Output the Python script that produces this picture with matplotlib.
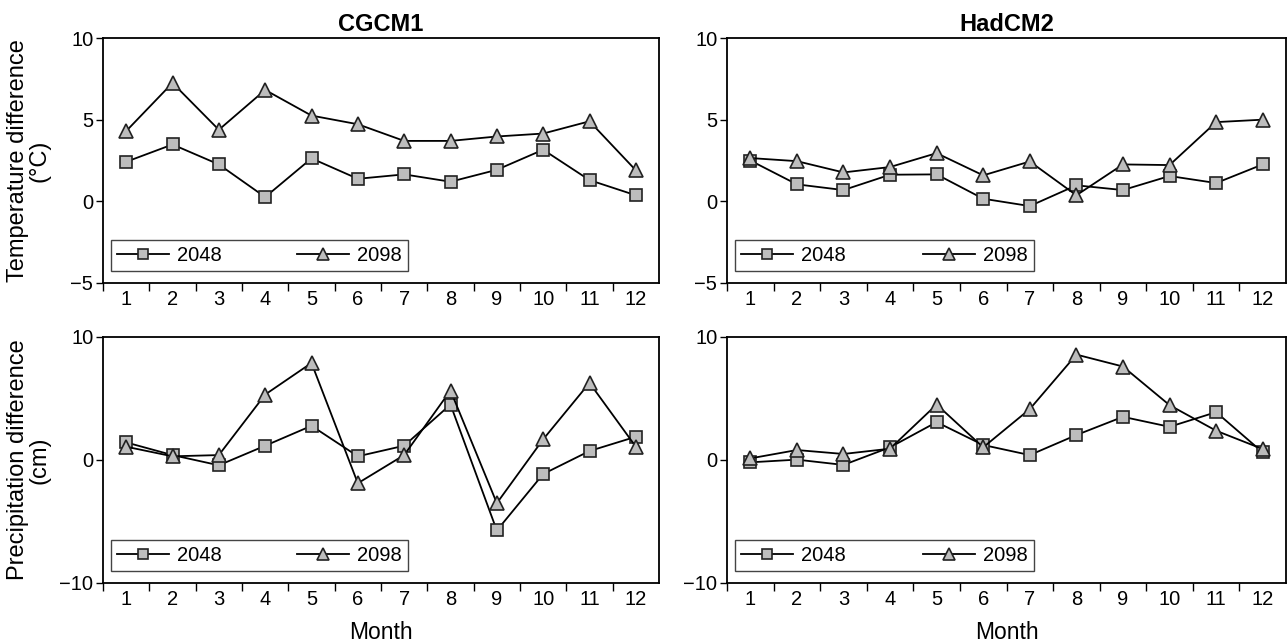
import matplotlib.pyplot as plt
import numpy as np

plt.rcParams['font.family'] = ['Liberation Sans', 'DejaVu Sans']

months = list(range(1, 13))
month_labels = [str(m) for m in months]

# temperature difference (deg C)
cgcm1_temp_2048 = [2.42, 3.48, 2.26, 0.26, 2.63, 1.38, 1.65, 1.2, 1.93, 3.16, 1.3, 0.37]
cgcm1_temp_2098 = [4.3, 7.25, 4.38, 6.82, 5.25, 4.72, 3.7, 3.7, 3.97, 4.15, 4.9, 1.9]
hadcm2_temp_2048 = [2.5, 1.04, 0.69, 1.63, 1.65, 0.16, -0.29, 0.98, 0.69, 1.55, 1.12, 2.26]
hadcm2_temp_2098 = [2.65, 2.46, 1.77, 2.1, 2.95, 1.59, 2.44, 0.37, 2.26, 2.22, 4.85, 5.0]

# precipitation difference (cm)
cgcm1_prec_2048 = [1.43, 0.4, -0.43, 1.16, 2.78, 0.3, 1.16, 4.51, -5.73, -1.14, 0.73, 1.89]
cgcm1_prec_2098 = [1.08, 0.3, 0.4, 5.32, 7.89, -1.89, 0.4, 5.65, -3.51, 1.68, 6.27, 1.08]
hadcm2_prec_2048 = [-0.19, 0.03, -0.4, 1.03, 3.08, 1.22, 0.4, 2.03, 3.51, 2.7, 3.89, 0.62]
hadcm2_prec_2098 = [0.13, 0.81, 0.49, 0.92, 4.51, 1.03, 4.14, 8.57, 7.6, 4.46, 2.38, 0.89]

fig = plt.figure(figsize=(12.88, 6.43), dpi=100)
W, H = 1288, 643


def add_ax(l, r, t, b):
    return fig.add_axes([l / W, 1 - b / H, (r - l) / W, (b - t) / H])


panels = [
    (add_ax(103, 659, 38, 283), cgcm1_temp_2048, cgcm1_temp_2098, (-5, 10), [-5, 0, 5, 10]),
    (add_ax(727, 1286, 38, 283), hadcm2_temp_2048, hadcm2_temp_2098, (-5, 10), [-5, 0, 5, 10]),
    (add_ax(103, 659, 337, 583), cgcm1_prec_2048, cgcm1_prec_2098, (-10, 10), [-10, 0, 10]),
    (add_ax(727, 1286, 337, 583), hadcm2_prec_2048, hadcm2_prec_2098, (-10, 10), [-10, 0, 10]),
]

for ax, s1, s2, ylim, yticks in panels:
    ax.plot(months, s1, color='black', lw=1.3, marker='s', markersize=8,
            markerfacecolor='#bdbdbd', markeredgecolor='#222222', markeredgewidth=1.2,
            label='2048', zorder=3)
    ax.plot(months, s2, color='black', lw=1.3, marker='^', markersize=9.5,
            markerfacecolor='#bdbdbd', markeredgecolor='#222222', markeredgewidth=1.2,
            label='2098', zorder=3)
    ax.set_xlim(0.5, 12.5)
    ax.set_ylim(*ylim)
    ax.set_yticks(yticks)
    ax.set_yticklabels([str(v).replace('-', '\u2212') for v in yticks])
    ax.set_xticks(np.arange(0.5, 12.5, 1.0))
    ax.set_xticklabels([])
    ax.set_xticks(months, minor=True)
    ax.set_xticklabels(month_labels, minor=True)
    ax.tick_params(axis='x', which='major', direction='out', length=6, width=1)
    ax.tick_params(axis='x', which='minor', length=0, pad=5, labelsize=14.5)
    ax.tick_params(axis='y', direction='out', length=5, width=1, labelsize=14.5, pad=2)
    for sp in ax.spines.values():
        sp.set_linewidth(1.3)
    leg = ax.legend(loc='lower left', bbox_to_anchor=(0.014, 0.047, 0.535, 0.13),
                    mode='expand', ncol=2, handlelength=2.6, fontsize=14.5,
                    markerscale=0.85, fancybox=False, framealpha=1, borderaxespad=0,
                    borderpad=0.3, handletextpad=0.4, columnspacing=1.0)
    leg.get_frame().set_edgecolor('#444444')
    leg.get_frame().set_linewidth(1.0)

panels[0][0].set_title('CGCM1', fontsize=17, fontweight='bold', pad=5)
panels[1][0].set_title('HadCM2', fontsize=17, fontweight='bold', pad=5)
panels[0][0].set_ylabel('Temperature difference\n(\u00b0C)', fontsize=17, linespacing=0.95)
panels[2][0].set_ylabel('Precipitation difference\n(cm)', fontsize=17, linespacing=0.95)
for ax in (panels[0][0], panels[2][0]):
    ax.yaxis.set_label_coords(-0.095, 0.5)
panels[2][0].set_xlabel('Month', fontsize=16.5, labelpad=9)
panels[3][0].set_xlabel('Month', fontsize=16.5, labelpad=9)

fig.savefig('out.png', dpi=100)
